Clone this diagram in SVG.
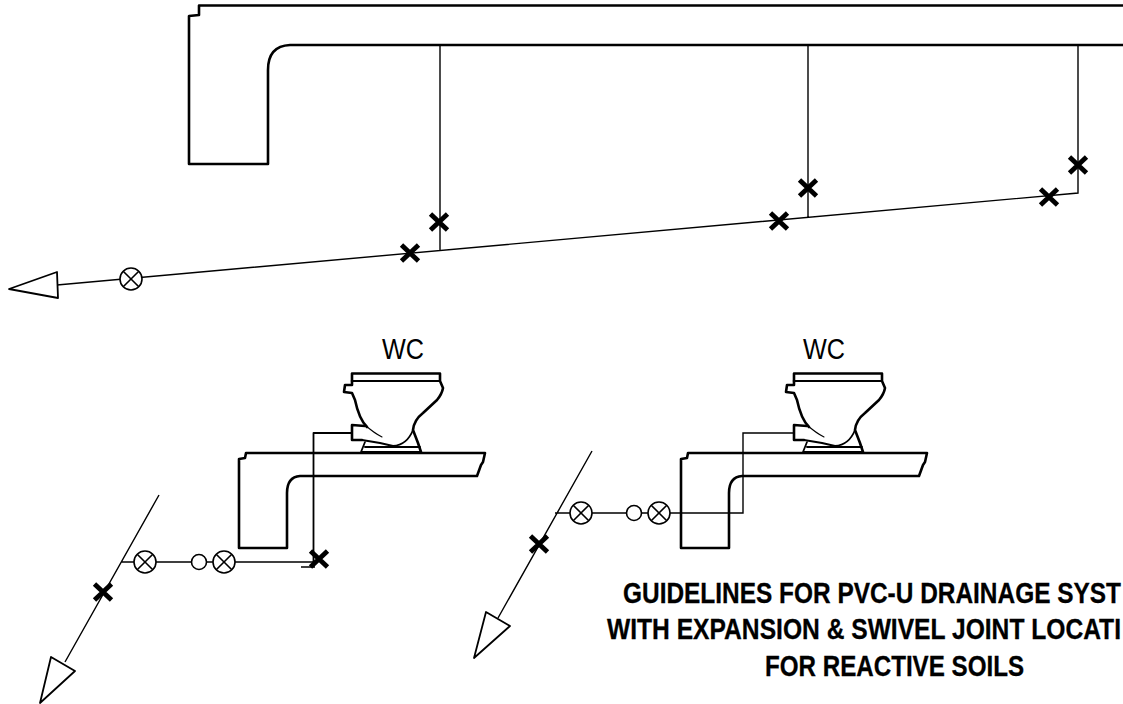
<svg xmlns="http://www.w3.org/2000/svg" width="1123" height="704" viewBox="0 0 1123 704">
<style>
.bg{fill:#fff}
.thick{fill:none;stroke:#000;stroke-width:2.6;stroke-linejoin:round;stroke-linecap:round}
.mid{fill:none;stroke:#000;stroke-width:1.8;stroke-linejoin:round;stroke-linecap:round}
.thin{fill:none;stroke:#000;stroke-width:1.1;stroke-linecap:round}
.pipe{fill:none;stroke:#000;stroke-width:1.4;stroke-linejoin:miter}
.v{fill:#fff;stroke:#000;stroke-width:1.6}
.x{fill:none;stroke:#000;stroke-width:4.8}
.wc{font-family:"Liberation Sans Narrow","Liberation Sans",Arial,sans-serif;font-size:29px;fill:#000;text-anchor:middle}
.title{font-family:"Liberation Sans Narrow","Liberation Sans",Arial,sans-serif;font-size:29px;font-weight:700;fill:#000;stroke:#000;stroke-width:.3}
</style>
<defs>
<g id="valve"><circle class="v" r="11"/><path class="v" d="M-7.800-7.800L7.800 7.800M-7.800 7.800L7.800-7.800"/></g>
<path id="cross" class="x" d="M-8.500-8L8.500 8M-8.500 8L8.500-8"/>
<g id="slabWc">
<path class="thick" d="M246 453H485L483 462L481 465L477 476H300Q287 477 287 493V548H239V459L245 458Z"/>
<path class="thick" d="M352 381V373.500H440V381L443 388Q442 394 437 400L423 413Q414 420 413 430L418 443L421 452"/>
<path class="mid" d="M352 381H440"/>
<path class="thick" d="M352 381V385H345L344 392L352 393L355 400Q359 419 367 427"/>
<path class="thick" d="M365 426L352 425V440H362"/>
<path class="mid" d="M362 440L380 443L393 446Q407 445 413 430M365 442L361 452H421M365 447H420"/>
<path class="thin" d="M365 425Q374 433 382 437"/>
</g>
</defs>
<rect class="bg" width="1123" height="704"/>
<g id="connectors">
<path class="pipe" d="M440 45V250M808 45V218M1078 45V193L57 285"/>
<path class="pipe" d="M159 495L65 662M121 562H313M301 567H315"/>
<path class="mid" d="M352 433H313.500V562"/>
<path class="pipe" d="M592 451L498 618M555 513H743V433H794"/>
</g>
<g id="slab-top"><path class="thick" d="M1123 5.500H199V15L189 16V164H268V70Q268 46 290 45H1123"/></g>
<g id="arrow-top"><path class="mid" d="M9 289L57 272L58 298Z"/></g>
<g id="arrow-left"><path class="mid" d="M51 657L75 671L40 703Z"/></g>
<g id="arrow-right"><path class="mid" d="M486 612L510 626L474 658Z"/></g>
<g id="wc-left"><use href="#slabWc"/><text class="wc" x="403" y="359" textLength="42" lengthAdjust="spacingAndGlyphs">WC</text></g>
<g id="wc-right"><use href="#slabWc" transform="translate(442 0)"/><text class="wc" x="824" y="359" textLength="42" lengthAdjust="spacingAndGlyphs">WC</text></g>
<g id="valves">
<use href="#valve" x="131" y="279"/>
<use href="#valve" x="145" y="562"/>
<circle class="v" cx="199" cy="562" r="7.500"/>
<use href="#valve" x="224" y="562"/>
<use href="#valve" x="581" y="513"/>
<circle class="v" cx="634" cy="513" r="7.500"/>
<use href="#valve" x="659" y="513"/>
</g>
<g id="joints">
<use href="#cross" x="439" y="222"/>
<use href="#cross" x="410" y="253"/>
<use href="#cross" x="808" y="188"/>
<use href="#cross" x="779" y="221"/>
<use href="#cross" x="1078" y="165"/>
<use href="#cross" x="1049" y="197"/>
<use href="#cross" x="103" y="592"/>
<use href="#cross" x="539" y="544"/>
<use href="#cross" x="319" y="559"/>
</g>
<g id="title">
<text class="title" x="623" y="603" textLength="498" lengthAdjust="spacingAndGlyphs">GUIDELINES FOR PVC-U DRAINAGE SYST</text>
<text class="title" x="607" y="639" textLength="514" lengthAdjust="spacingAndGlyphs">WITH EXPANSION &amp; SWIVEL JOINT LOCATI</text>
<text class="title" x="765" y="676" textLength="259" lengthAdjust="spacingAndGlyphs">FOR REACTIVE SOILS</text>
</g>
</svg>
